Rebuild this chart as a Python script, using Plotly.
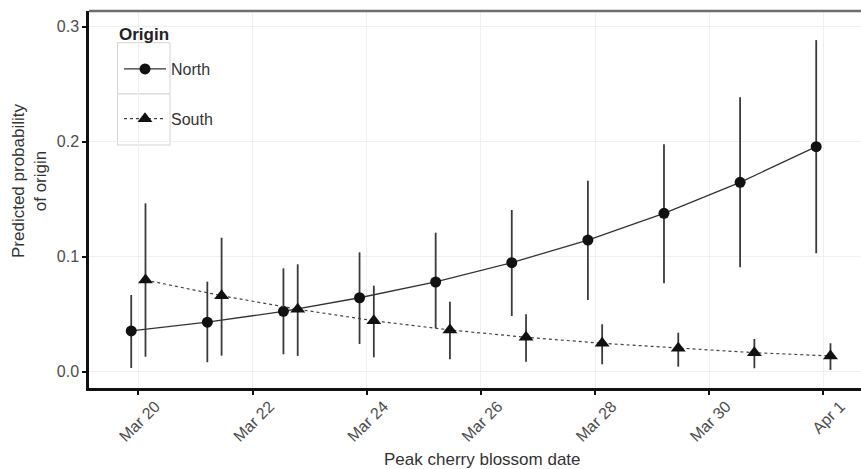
import pandas as pd
import plotly.graph_objects as go

# ---- data ----
dates = ["2015-03-20 00:00", "2015-03-21 08:00", "2015-03-22 16:00", "2015-03-24 00:00",
         "2015-03-25 08:00", "2015-03-26 16:00", "2015-03-28 00:00", "2015-03-29 08:00",
         "2015-03-30 16:00", "2015-04-01 00:00"]

north = [0.0354, 0.0430, 0.0525, 0.0643, 0.0780, 0.0948, 0.1145, 0.1377, 0.1647, 0.1957]
north_hi = [0.0667, 0.0783, 0.0899, 0.1038, 0.1209, 0.1406, 0.1661, 0.1977, 0.2386, 0.2884]
north_lo = [0.0032, 0.0082, 0.0151, 0.0241, 0.0377, 0.0484, 0.0623, 0.0769, 0.0908, 0.1030]

south = [0.0797, 0.0661, 0.0543, 0.0443, 0.0363, 0.0299, 0.0247, 0.0203, 0.0165, 0.0137]
south_hi = [0.1464, 0.1165, 0.0934, 0.0748, 0.0609, 0.0499, 0.0412, 0.0339, 0.0284, 0.0247]
south_lo = [0.0130, 0.0139, 0.0137, 0.0125, 0.0108, 0.0087, 0.0064, 0.0043, 0.0030, 0.0015]

tick_dates = ["2015-03-20", "2015-03-22", "2015-03-24", "2015-03-26",
              "2015-03-28", "2015-03-30", "2015-04-01"]
tick_labels = ["Mar 20", "Mar 22", "Mar 24", "Mar 26", "Mar 28", "Mar 30", "Apr 1"]
y_ticks = [0.0, 0.1, 0.2, 0.3]
y_labels = ["0.0", "0.1", "0.2", "0.3"]

# ---- dodge (position offset) ----
dodge = pd.Timedelta(hours=3)
x_base = pd.to_datetime(pd.Series(dates))
x_north = x_base - dodge
x_south = x_base + dodge

FONT = "Liberation Sans, Arial, sans-serif"

fig = go.Figure()
fig.add_trace(go.Scatter(
    x=x_north, y=north, name="North", mode="lines+markers", legendgroup="n",
    line=dict(color="#333333", width=1.3),
    marker=dict(symbol="circle", size=11, color="#111111"),
    error_y=dict(type="data", symmetric=False,
                 array=[h - v for h, v in zip(north_hi, north)],
                 arrayminus=[v - l for v, l in zip(north, north_lo)],
                 width=0, thickness=1.8, color="#3a3a3a"),
))
fig.add_trace(go.Scatter(
    x=x_south, y=south, name="South", mode="lines+markers", legendgroup="s",
    line=dict(color="#444444", width=1.2, dash="dot"),
    marker=dict(symbol="triangle-up", size=13, color="#111111"),
    error_y=dict(type="data", symmetric=False,
                 array=[h - v for h, v in zip(south_hi, south)],
                 arrayminus=[v - l for v, l in zip(south, south_lo)],
                 width=0, thickness=1.8, color="#3a3a3a"),
))

W, H = 861, 469
L, R, T, B = 89, 0, 11, 81
pw, ph = W - L - R, H - T - B

def px_x(p):
    return (p - L) / pw

def px_y(p):
    return 1 - (p - T) / ph

shapes = [
    # top panel border
    dict(type="line", xref="paper", yref="paper", x0=0, x1=1, y0=1, y1=1,
         line=dict(color="#6e6e6e", width=2.5), layer="above"),
    # legend key boxes
    dict(type="rect", xref="paper", yref="paper",
         x0=px_x(117.5), x1=px_x(170), y0=px_y(94), y1=px_y(42.7),
         line=dict(color="#d4d4d4", width=1), fillcolor="white", layer="between"),
    dict(type="rect", xref="paper", yref="paper",
         x0=px_x(117.5), x1=px_x(170), y0=px_y(145), y1=px_y(94),
         line=dict(color="#d4d4d4", width=1), fillcolor="white", layer="between"),
]

annotations = [
    dict(text="<b>Origin</b>", xref="paper", yref="paper", x=px_x(117), y=px_y(34),
         xanchor="left", yanchor="middle", showarrow=False,
         font=dict(size=17, color="#222222")),
    dict(text="Peak cherry blossom date", xref="paper", yref="paper",
         x=px_x(482), y=px_y(460), xanchor="center", yanchor="middle", showarrow=False,
         font=dict(size=17, color="#333333")),
    dict(text="Predicted probability<br>of origin", xref="paper", yref="paper",
         x=px_x(30), y=px_y(181), xanchor="center", yanchor="middle", showarrow=False,
         textangle=-90, font=dict(size=17, color="#333333")),
]

fig.update_layout(
    width=W, height=H,
    margin=dict(l=L, r=R, t=T, b=B, autoexpand=False),
    paper_bgcolor="white", plot_bgcolor="white",
    font=dict(family=FONT, size=16, color="#333333"),
    showlegend=True,
    legend=dict(
        x=px_x(119), y=px_y(52), xanchor="left", yanchor="top",
        bgcolor="rgba(0,0,0,0)", borderwidth=0,
        font=dict(size=16, color="#333333"),
        itemwidth=42, tracegroupgap=26,
    ),
    shapes=shapes,
    annotations=annotations,
    xaxis=dict(
        type="date", automargin=False,
        range=["2015-03-19 03:15", "2015-04-01 15:50"],
        tickvals=tick_dates, ticktext=tick_labels, tickangle=-45,
        tickfont=dict(size=16, color="#4d4d4d"),
        ticklabelshift=17, ticklabelstandoff=-4,
        ticks="outside", ticklen=4, tickwidth=2, tickcolor="#111111",
        showline=True, linecolor="#111111", linewidth=2.5,
        showgrid=True, gridcolor="#efefef", gridwidth=1,
        zeroline=False,
    ),
    yaxis=dict(
        automargin=False,
        range=[-0.0142, 0.3137],
        tickvals=y_ticks, ticktext=y_labels,
        tickfont=dict(size=16, color="#4d4d4d"),
        ticks="outside", ticklen=4, tickwidth=2, tickcolor="#111111",
        showline=True, linecolor="#111111", linewidth=2.5,
        showgrid=True, gridcolor="#efefef", gridwidth=1,
        zeroline=False,
    ),
)

fig.write_html("out.html", config={"displayModeBar": False},
               post_script="document.body.style.margin='0';")
